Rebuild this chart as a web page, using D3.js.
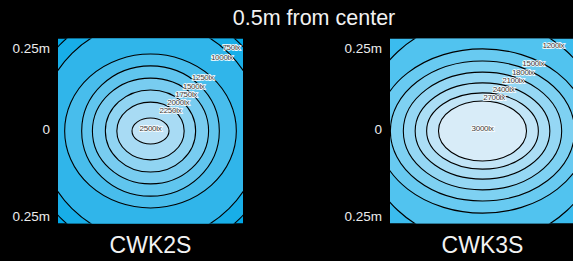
<!DOCTYPE html>
<html>
<head>
<meta charset="utf-8">
<script src="https://cdn.jsdelivr.net/npm/d3@7"></script>
<style>
  body { margin: 0; background: #000; overflow: hidden; }
  svg { display: block; font-family: "Liberation Sans", Arial, sans-serif; }
</style>
</head>
<body>
<svg id="chart" width="573" height="261"></svg>
<script>
// (DATA) illuminance contours (radii in metres)
var title = "0.5m from center";

var cwk2sLevels = [750, 1000, 1250, 1500, 1750, 2000, 2250, 2500];
var cwk2sRx = [0.341, 0.300, 0.232, 0.186, 0.157, 0.122, 0.091, 0.050];
var cwk2sRy = [0.335, 0.297, 0.208, 0.176, 0.143, 0.111, 0.078, 0.035];

var cwk3sLevels = [1200, 1500, 1800, 2100, 2400, 2700, 3000];
var cwk3sRx = [0.324, 0.286, 0.249, 0.214, 0.182, 0.151, 0.119];
var cwk3sRy = [0.303, 0.222, 0.189, 0.159, 0.130, 0.103, 0.081];

var tickValues = [0.25, 0, -0.25];
var tickLabels = ["0.25m", "0", "0.25m"];

function init() {
    var svg = d3.select("#chart");
    var size = 185;   // panel size in px (0.5m)
    var top = 38.5;

    // panels: where they sit and how they are coloured
    // labelScale pulls the contour labels a little towards the centre
    var panels = [
        { name: "CWK2S", levels: cwk2sLevels, rx: cwk2sRx, ry: cwk2sRy,
          left: 58, outer: "#00a6e6", inner: "#c0e3f6",
          labelOrigin: [0, 0], labelAngle: 46, labelScale: 0.93, inset: 0 },
        { name: "CWK3S", levels: cwk3sLevels, rx: cwk3sRx, ry: cwk3sRy,
          left: 390, outer: "#3bbcee", inner: "#d8ecf8",
          labelOrigin: [0, -24], labelAngle: 41, labelScale: 1, inset: 4 }
    ];

    // (TITLE)
    svg.append("text")
        .attr("x", 314)
        .attr("y", 24.5)
        .attr("text-anchor", "middle")
        .attr("fill", "#f2f2f2")
        .style("font-size", "21.5px")
        .text(title);

    panels.forEach(function(p, pi) {
        var x = d3.scaleLinear().domain([-0.25, 0.25]).range([p.left, p.left + size]);
        var y = d3.scaleLinear().domain([-0.25, 0.25]).range([top + size, top]);
        var n = p.levels.length + 1;
        var color = function(i) { return d3.interpolateRgb(p.outer, p.inner)(i / (n - 1)); };

        svg.append("clipPath").attr("id", "clip" + pi)
            .append("rect")
            .attr("x", x(-0.25)).attr("y", y(0.25))
            .attr("width", size).attr("height", size);

        var g = svg.append("g").attr("clip-path", "url(#clip" + pi + ")");

        // background = region below the lowest level
        g.append("rect")
            .attr("x", x(-0.25)).attr("y", y(0.25))
            .attr("width", size).attr("height", size)
            .attr("fill", color(0));

        // contour bands, outer to inner
        g.selectAll("ellipse")
            .data(p.levels)
            .enter()
            .append("ellipse")
            .attr("cx", x(0))
            .attr("cy", y(0))
            .attr("rx", function(d, i) { return x(p.rx[i]) - x(0); })
            .attr("ry", function(d, i) { return y(0) - y(p.ry[i]); })
            .attr("fill", function(d, i) { return color(i + 1); })
            .attr("stroke", "#000")
            .attr("stroke-width", 1.1);

        // (LABELS) along a ray from near the centre
        var a = p.labelAngle * Math.PI / 180;
        var dx = Math.cos(a), dy = -Math.sin(a);
        var ox = p.labelOrigin[0], oy = p.labelOrigin[1];
        var labelPos = p.levels.map(function(d, i) {
            if (i === p.levels.length - 1) return [x(0), y(0) - 3];
            var A = x(p.rx[i]) - x(0), B = y(0) - y(p.ry[i]);
            var qa = (dx / A) * (dx / A) + (dy / B) * (dy / B);
            var qb = 2 * (ox * dx / (A * A) + oy * dy / (B * B));
            var qc = (ox / A) * (ox / A) + (oy / B) * (oy / B) - 1;
            var t = (-qb + Math.sqrt(qb * qb - 4 * qa * qc)) / (2 * qa);
            t = t * p.labelScale - p.inset;
            return [x(0) + ox + t * dx, y(0) + oy + t * dy];
        });

        g.selectAll("text.lbl")
            .data(p.levels)
            .enter()
            .append("text")
            .attr("class", "lbl")
            .attr("x", function(d, i) { return labelPos[i][0]; })
            .attr("y", function(d, i) { return labelPos[i][1]; })
            .attr("dy", "0.35em")
            .attr("text-anchor", "middle")
            .attr("fill", "#3a3a3a")
            .attr("stroke", "#fff")
            .attr("stroke-width", 1.6)
            .attr("paint-order", "stroke")
            .style("font-size", "8px")
            .style("letter-spacing", "-0.3px")
            .text(function(d) { return d + "lx"; });

        // (Y-AXIS) labels only
        var axis = d3.axisLeft(y)
            .tickValues(tickValues)
            .tickSize(0)
            .tickPadding(8)
            .tickFormat(function(d, i) { return tickLabels[i]; });
        var ax = svg.append("g")
            .attr("transform", "translate(" + x(-0.25) + ",0)")
            .call(axis);
        ax.select(".domain").remove();
        ax.selectAll("text")
            .attr("fill", "#ececec")
            .style("font-size", "13.5px")
            .style("font-family", "'Liberation Sans', Arial, sans-serif")
            .attr("dy", function(d) { return d > 0 ? "1.05em" : (d < 0 ? "-0.25em" : "0.2em"); });

        // (NAME) under the panel
        svg.append("text")
            .attr("x", x(0))
            .attr("y", 253)
            .attr("text-anchor", "middle")
            .attr("fill", "#f2f2f2")
            .style("font-size", "23px")
            .text(p.name);
    });
}

window.onload = init;
</script>
</body>
</html>
